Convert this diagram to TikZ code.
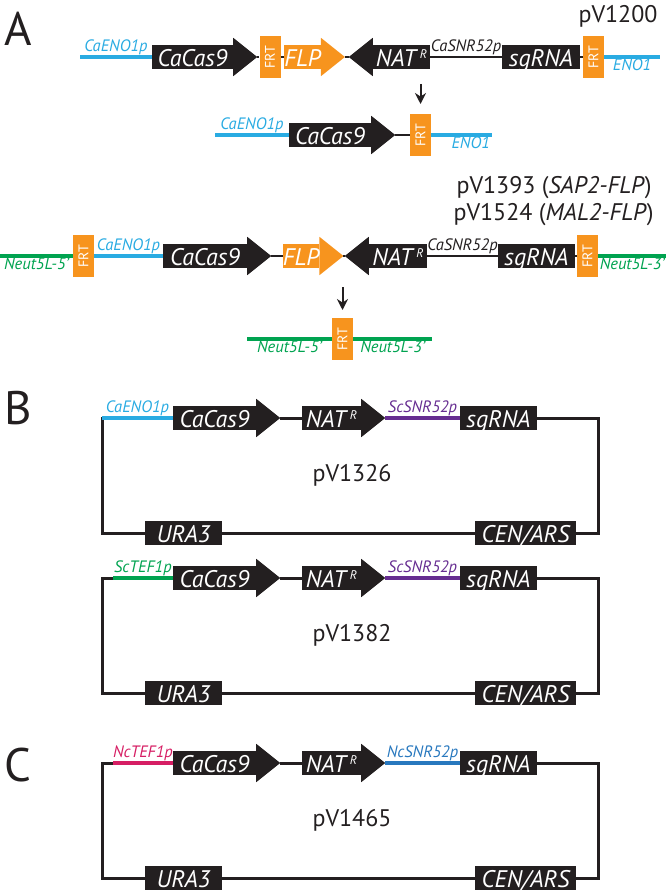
\documentclass[tikz,border=0pt]{standalone}
\usepackage{fontspec}
\setmainfont{PT Sans}
\usetikzlibrary{arrows.meta,backgrounds}

\definecolor{caBlue}{RGB}{41,171,226}
\definecolor{frtOrange}{RGB}{247,148,30}
\definecolor{neutGreen}{RGB}{0,163,80}
\definecolor{scPurple}{RGB}{102,45,145}
\definecolor{ncPink}{RGB}{214,30,100}
\definecolor{ncBlue}{RGB}{40,120,190}
\definecolor{geneBlack}{RGB}{35,31,32}

\newcommand{\natR}{NAT\,\raisebox{8pt}{\fontsize{12.5}{12.5}\selectfont R}}
\newcommand{\frt}{\rotatebox{90}{FRT}}

\begin{document}
\begin{tikzpicture}[x=1pt,y=-1pt]
        \tikzstyle{gene}=[fill=geneBlack, text=white, inner sep=0pt, minimum height=24pt, text height=19.5pt, text depth=1pt, font=\fontsize{24}{24}\selectfont\itshape]
        \tikzstyle{flpgene}=[gene, fill=frtOrange]
        \tikzstyle{frtbox}=[fill=frtOrange, text=white, inner sep=0pt, minimum width=21pt, minimum height=42pt, font=\fontsize{14}{14}\selectfont]
        \tikzstyle{backbone}=[line width=2.5pt, geneBlack]
        \tikzstyle{promoter}=[line width=3.5pt]
        \tikzstyle{lbl}=[font=\fontsize{16.5}{16.5}\selectfont\itshape, inner sep=0.5pt]
        \tikzstyle{plasmid}=[font=\fontsize{24}{24}\selectfont, text=geneBlack]
        \tikzstyle{panel}=[font=\fontsize{47}{47}\selectfont, text=geneBlack]
        \tikzstyle{excise}=[line width=2pt, geneBlack, -{Stealth[length=11pt,width=11pt]}]
        \useasboundingbox (0,0) rectangle (666,896);

        % A: pV1200 and its excised form
        \node[panel] (pA) at (18,29) {A};
        \node[plasmid, anchor=east] (pv1200) at (661,16) {pV1200};
        \coordinate (a1l) at (80,57);
        \node[gene, minimum width=81pt] (cas1) at (192.5,57) {CaCas9};
        \node[frtbox] (frt1a) at (270,57) {\frt};
        \node[flpgene, minimum width=33pt] (flp1) at (302.5,57) {FLP};
        \node[gene, minimum width=57pt] (nat1) at (401.5,57) {\natR};
        \node[gene, minimum width=78pt] (sg1) at (541,57) {sgRNA};
        \node[frtbox] (frt1b) at (593.5,57) {\frt};
        \coordinate (a1r) at (660,57);

        \coordinate (a2l) at (215,135);
        \node[gene, minimum width=82pt] (cas2) at (330,135) {CaCas9};
        \node[frtbox] (frt2) at (420.5,135) {\frt};
        \coordinate (a2r) at (492,135);

        % A: pV1393 / pV1524 and its excised form
        \node[plasmid, anchor=east] (pv1393) at (655,188) {pV1393 (\textit{SAP2-FLP})};
        \node[plasmid, anchor=east] (pv1524) at (657,215) {pV1524 (\textit{MAL2-FLP})};
        \coordinate (a3l) at (0,256);
        \node[frtbox] (frt3a) at (83.5,256) {\frt};
        \node[gene, minimum width=84pt] (cas3) at (205,256) {CaCas9};
        \node[flpgene, minimum width=34pt] (flp3) at (301,256) {FLP};
        \node[gene, minimum width=58pt] (nat3) at (398,256) {\natR};
        \node[gene, minimum width=77pt] (sg3) at (536.5,256) {sgRNA};
        \node[frtbox] (frt3b) at (587.5,256) {\frt};
        \coordinate (a3r) at (666,256);

        \coordinate (a4l) at (247,339);
        \node[frtbox] (frt4) at (342.5,339) {\frt};
        \coordinate (a4r) at (432,339);

        \begin{scope}[on background layer]
            \foreach \g/\c in {cas1/geneBlack, flp1/frtOrange, cas2/geneBlack, cas3/geneBlack, flp3/frtOrange} {
                \coordinate (\g-tip) at ([xshift=24pt]\g.east);
                \fill[\c] ([yshift=7pt]\g.north east) -- (\g-tip) -- ([yshift=-7pt]\g.south east) -- cycle;
            }
            \foreach \g in {nat1,nat3} {
                \coordinate (\g-tip) at ([xshift=-24pt]\g.west);
                \fill[geneBlack] ([yshift=7pt]\g.north west) -- (\g-tip) -- ([yshift=-7pt]\g.south west) -- cycle;
            }
        \end{scope}

        \draw[promoter, caBlue] (a1l) -- node[lbl, above] {CaENO1p} (cas1.west);
        \draw[backbone] (cas1-tip) -- (frt1a.west);
        \draw[backbone] (frt1a.east) -- (flp1.west);
        \draw[backbone] (flp1-tip) -- (nat1-tip);
        \draw[backbone] (nat1.east) -- node[lbl, above] {CaSNR52p} (sg1.west);
        \draw[backbone] (sg1.east) -- (frt1b.west);
        \draw[promoter, caBlue] (frt1b.east) -- node[lbl, below] {ENO1} (a1r);

        \draw[promoter, caBlue] (a2l) -- node[lbl, above] {CaENO1p} (cas2.west);
        \draw[backbone] (cas2-tip) -- (frt2.west);
        \draw[promoter, caBlue] (frt2.east) -- node[lbl, below, pos=0.65] {ENO1} (a2r);

        \draw[promoter, neutGreen] (a3l) -- node[lbl, below] {Neut5L-5’} (frt3a.west);
        \draw[promoter, caBlue] (frt3a.east) -- node[lbl, above] {CaENO1p} (cas3.west);
        \draw[backbone] (cas3-tip) -- (flp3.west);
        \draw[backbone] (flp3-tip) -- (nat3-tip);
        \draw[backbone] (nat3.east) -- node[lbl, above] {CaSNR52p} (sg3.west);
        \draw[backbone] (sg3.east) -- (frt3b.west);
        \draw[promoter, neutGreen] (frt3b.east) -- node[lbl, below] {Neut5L-3’} (a3r);

        \draw[promoter, neutGreen] (a4l) -- node[lbl, below] {Neut5L-5’} (frt4.west);
        \draw[promoter, neutGreen] (frt4.east) -- node[lbl, below] {Neut5L-3’} (a4r);

        \coordinate (ex1a) at (420.5,84);
        \coordinate (ex1b) at (420.5,104);
        \draw[excise] (ex1a) -- (ex1b);
        \coordinate (ex2a) at (342.5,287);
        \coordinate (ex2b) at (342.5,310);
        \draw[excise] (ex2a) -- (ex2b);

        % B and C: the plasmids
        \node[panel] (pB) at (18,408) {B};
        \node[panel] (pC) at (18,765) {C};
        \foreach \i/\y/\px/\pc/\pn/\tc/\tn/\name in {1/418/102/caBlue/CaENO1p/scPurple/ScSNR52p/pV1326,
                2/578/113/neutGreen/ScTEF1p/scPurple/ScSNR52p/pV1382,
                3/763/113/ncPink/NcTEF1p/ncBlue/NcSNR52p/pV1465} {
            \pgfmathsetmacro{\yb}{\y+115}
            \coordinate (nw\i) at (102,\y);
            \coordinate (pr\i) at (\px,\y);
            \coordinate (ne\i) at (598,\y);
            \coordinate (se\i) at (598,\yb);
            \coordinate (sw\i) at (102,\yb);
            \node[gene, minimum width=83pt] (casP\i) at (214.5,\y) {CaCas9};
            \node[gene, minimum width=59pt] (natP\i) at (331.5,\y) {\natR};
            \node[gene, minimum width=77pt] (sgP\i) at (498.5,\y) {sgRNA};
            \node[gene, minimum width=77pt] (uraP\i) at (183.5,\yb) {URA3};
            \node[gene, minimum width=101pt] (cenP\i) at (525.5,\yb) {CEN/ARS};
            \node[plasmid] (name\i) at (352,\y+57) {\name};
            \foreach \g in {casP\i, natP\i} {
                \coordinate (\g-tip) at ([xshift=24pt]\g.east);
                \fill[geneBlack] ([yshift=7pt]\g.north east) -- (\g-tip) -- ([yshift=-7pt]\g.south east) -- cycle;
            }
            \draw[backbone, line width=3pt, line cap=rect] (pr\i) -- (nw\i) -- (sw\i) -- (uraP\i.west);
            \draw[promoter, \pc] (pr\i) -- node[lbl, above] {\pn} (casP\i.west);
            \draw[backbone, line width=3pt] (casP\i-tip) -- (natP\i.west);
            \draw[promoter, \tc] (natP\i-tip) -- node[lbl, above] {\tn} (sgP\i.west);
            \draw[backbone, line width=3pt] (sgP\i.east) -- (ne\i) -- (se\i) -- (cenP\i.east);
            \draw[backbone, line width=3pt] (cenP\i.west) -- (uraP\i.east);
        }
\end{tikzpicture}
\end{document}
